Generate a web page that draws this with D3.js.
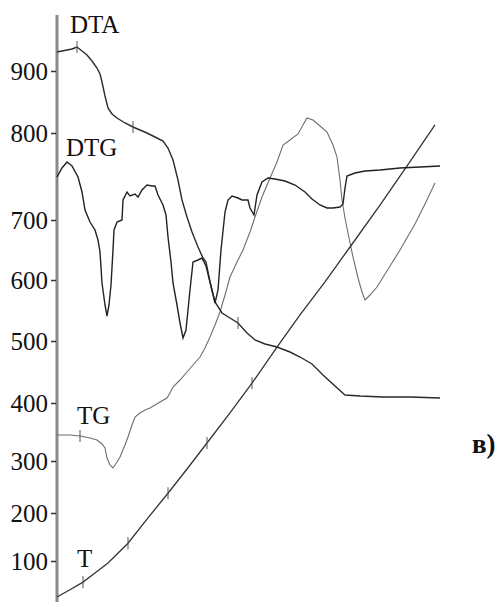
<!DOCTYPE html>
<html>
<head>
<meta charset="utf-8">
<script src="https://cdn.jsdelivr.net/npm/d3@7"></script>
<style>
  html, body { margin: 0; padding: 0; background: #fff; }
  svg { display: block; }
  text { font-family: "Liberation Serif", "DejaVu Serif", serif; }
</style>
</head>
<body>
<div id="root"></div>
<script>
const width = 500;
const height = 602;

// temperature axis ticks (°C)
const tempTicks = [100, 200, 300, 400, 500, 600, 700, 800, 900];

// time in min, temperature in °C
const tSeries = [
  [0, 25], [6.5, 40], [13, 56], [19, 75], [25.5, 96], [35.5, 137], [45.5, 190],
  [55.5, 238], [65.5, 287], [75, 331], [86.5, 383], [97.5, 432], [110, 490],
  [121.5, 543], [134, 597], [146.5, 655], [161.5, 717], [176.5, 767], [189, 813]
];

// signal curves, time in min, signal in arbitrary units
const dtaSeries = [
  [0, 274], [2.5, 274.5], [5, 275], [7.5, 275.5], [10, 276.5], [12.5, 274.5],
  [15, 272.5], [17.5, 269.5], [20, 266], [21.5, 263], [22.5, 259], [24, 252],
  [25.5, 246], [27.5, 243], [30, 241], [34, 238.5], [38, 236.5], [41.5, 235],
  [45, 233.5], [49, 231.5], [53, 229.5], [55.5, 226], [58, 220], [60.5, 210],
  [62.5, 200], [65, 191.5], [67.5, 184], [70.5, 176.5], [73, 171], [74.5, 169],
  [76.5, 159], [79, 149], [82.5, 143.5], [86.5, 141], [90.5, 138.5], [95, 133.5],
  [99, 130], [104, 128], [110, 126.5], [116.5, 124], [121.5, 121.5], [127.5, 118],
  [133, 112.5], [139, 107], [144, 102.5], [151.5, 102], [163, 101.5], [176.5, 101.5],
  [191.5, 101]
];

const dtgSeries = [
  [0, 211.5], [2.5, 216], [5, 219], [7.5, 217], [10.5, 211.5], [12.5, 204],
  [14, 195], [16.5, 189], [19, 185], [20.5, 180], [21.5, 174], [22.5, 158.5],
  [24, 147.5], [25, 142], [26, 147.5], [27, 157.5], [28, 175], [28.5, 185],
  [30, 189], [32.5, 190], [33, 200], [35, 204], [36.5, 202], [39, 203],
  [40.5, 201.5], [42.5, 205], [45, 207.5], [47.5, 207], [49, 207], [50.5, 202.5],
  [53, 197.5], [54.5, 192.5], [55.5, 181.5], [57, 169], [58, 158.5], [60, 147.5],
  [61.5, 138.5], [63, 131], [64.5, 135], [65.5, 145], [66.5, 155], [68, 169],
  [70.5, 170], [72.5, 171], [74.5, 167], [76.5, 159], [79, 148.5], [80.5, 155],
  [82, 175], [84, 194], [85.5, 200], [87.5, 202], [90.5, 201], [92.5, 200],
  [95.5, 200], [96.5, 196], [98.5, 192.5], [100, 202.5], [102.5, 209], [105.5, 211],
  [109, 210.5], [114, 209.5], [119, 207.5], [124, 204], [127.5, 200.5], [131.5, 197.5],
  [135, 196], [138, 196], [141.5, 196.5], [143, 198], [144, 206], [145, 212],
  [149, 213.5], [154, 214.5], [161.5, 215], [171.5, 216], [181.5, 216.5], [191.5, 217]
];

const tgSeries = [
  [0, 82.5], [6.5, 82.5], [11.5, 82], [16.5, 81], [20, 80], [22.5, 78], [24, 76],
  [25, 71], [26.5, 67.5], [28, 66], [30, 69], [31.5, 71.5], [34, 77.5], [35.5, 81.5],
  [37.5, 87.5], [39, 91.5], [41.5, 93.5], [44, 95], [46.5, 96], [49, 97.5],
  [51.5, 99], [55, 101], [56.5, 103.5], [58, 106.5], [61.5, 110], [65, 114],
  [68, 117.5], [71.5, 121.5], [74, 126], [76.5, 131.5], [79, 137.5], [81.5, 144],
  [84, 152.5], [86.5, 161.5], [90, 169], [93, 175], [96.5, 184], [99, 191.5],
  [102.5, 201.5], [106.5, 211], [110, 219], [113, 227.5], [116.5, 230], [120.5, 233],
  [123, 237.5], [125, 241], [128, 240], [131.5, 237], [135, 234], [138, 227.5],
  [140, 221.5], [141.5, 210], [142.5, 200], [144, 191], [145.5, 183.5], [148, 171.5],
  [150.5, 161], [152.5, 154], [154, 150], [156.5, 152.5], [160, 156.5], [166.5, 167],
  [171.5, 175], [179, 188], [184, 198], [189, 208.5]
];

// small cross marks on the curves (time, min)
const tMarks = [13, 35.5, 55.5, 75, 97.5];
const dtaMarks = [10, 38, 90.5];
const tgMarks = [11.5];

const serif = "'Liberation Serif', 'DejaVu Serif', serif";

const root = d3.select("#root");
const svg = root
  .append("svg")
  .attr("width", width)
  .attr("height", height)
  .attr("viewBox", `0 0 ${width} ${height}`);

const axisX = 57;

const xScale = d3.scaleLinear().domain([0, 200]).range([axisX, axisX + 400]);

// the printed temperature scale is not evenly spaced
const yTemp = d3
  .scaleLinear()
  .domain(tempTicks)
  .range([561, 513, 461, 403, 341, 280, 220, 133, 71]);

const ySignal = d3.scaleLinear().domain([0, 300]).range([600, 0]);

// axis line
svg
  .append("line")
  .attr("x1", axisX)
  .attr("x2", axisX)
  .attr("y1", 15)
  .attr("y2", height)
  .attr("stroke", "#8a8a8a")
  .attr("stroke-width", 3);

const leftAxis = d3
  .axisLeft(yTemp)
  .tickValues(tempTicks)
  .tickSize(5)
  .tickPadding(3)
  .tickFormat(d3.format("d"));

const axisG = svg
  .append("g")
  .attr("transform", `translate(${axisX - 1}, 0)`)
  .call(leftAxis)
  .attr("font-family", serif)
  .attr("font-size", 25);
axisG.select(".domain").remove();
axisG.selectAll(".tick line").attr("stroke", "#333").attr("stroke-width", 1.5);
axisG.selectAll(".tick text").attr("fill", "#111");

const lineTemp = d3
  .line()
  .x((d) => xScale(d[0]))
  .y((d) => yTemp(d[1]));

const lineSignal = d3
  .line()
  .x((d) => xScale(d[0]))
  .y((d) => ySignal(d[1]));

svg
  .append("path")
  .attr("d", lineSignal(tgSeries))
  .attr("fill", "none")
  .attr("stroke", "#6e6e6e")
  .attr("stroke-width", 1.1);

svg
  .append("path")
  .attr("d", lineTemp(tSeries))
  .attr("fill", "none")
  .attr("stroke", "#333")
  .attr("stroke-width", 1.3);

svg
  .append("path")
  .attr("d", lineSignal(dtaSeries))
  .attr("fill", "none")
  .attr("stroke", "#2a2a2a")
  .attr("stroke-width", 1.4);

svg
  .append("path")
  .attr("d", lineSignal(dtgSeries))
  .attr("fill", "none")
  .attr("stroke", "#222")
  .attr("stroke-width", 1.4);

// little vertical marks on curves
function interp(series, t) {
  const xs = series.map((d) => d[0]);
  const ys = series.map((d) => d[1]);
  return d3.scaleLinear().domain(xs).range(ys)(t);
}

function drawMarks(marks, series, yScale) {
  svg
    .selectAll(null)
    .data(marks)
    .join("line")
    .attr("x1", (t) => xScale(t))
    .attr("x2", (t) => xScale(t))
    .attr("y1", (t) => yScale(interp(series, t)) - 6)
    .attr("y2", (t) => yScale(interp(series, t)) + 6)
    .attr("stroke", "#555")
    .attr("stroke-width", 1);
}
drawMarks(tMarks, tSeries, yTemp);
drawMarks(dtaMarks, dtaSeries, ySignal);
drawMarks(tgMarks, tgSeries, ySignal);

const labels = [
  { text: "DTA", x: 70, y: 33 },
  { text: "DTG", x: 66, y: 156 },
  { text: "TG", x: 77, y: 424 },
  { text: "T", x: 77, y: 567 },
];

svg
  .selectAll(".curve-label")
  .data(labels)
  .join("text")
  .attr("class", "curve-label")
  .attr("x", (d) => d.x)
  .attr("y", (d) => d.y)
  .text((d) => d.text)
  .attr("fill", "#111")
  .attr("font-family", serif)
  .attr("font-size", 25);

svg
  .append("text")
  .attr("x", 472)
  .attr("y", 453)
  .text("в)")
  .attr("fill", "#111")
  .attr("font-family", serif)
  .attr("font-size", 27)
  .attr("font-weight", 700);
</script>
</body>
</html>
